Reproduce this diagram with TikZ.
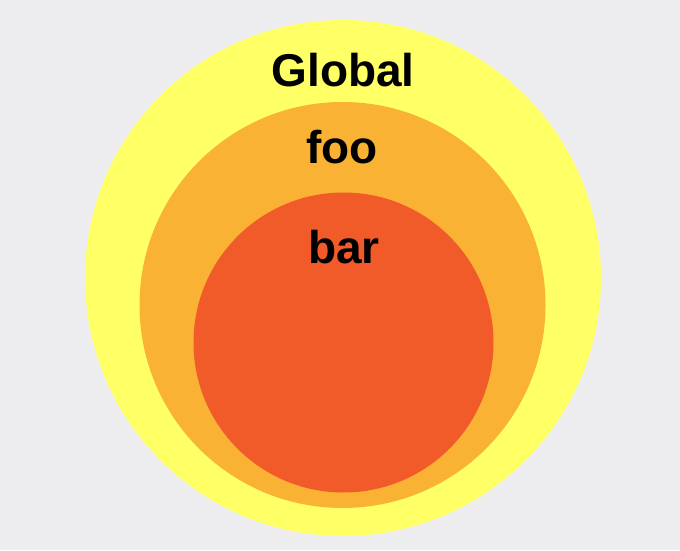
\documentclass[tikz,border=0pt]{standalone}
\usepackage{fontspec}
\setmainfont{Liberation Sans}
\usetikzlibrary{positioning}
\definecolor{bggray}{HTML}{EDEDF0}
\definecolor{globalyellow}{HTML}{FFFF66}
\definecolor{fooorange}{HTML}{F9B233}
\definecolor{barred}{HTML}{F15A29}
\tikzstyle{scope}=[circle,draw=none,inner sep=0pt]
\tikzstyle{label}=[font=\fontsize{46}{50}\selectfont\bfseries,anchor=base,inner sep=0pt]

\begin{document}
\begin{tikzpicture}[x=1pt,y=1pt]
    \fill[bggray] (0,0) rectangle (680,550);
    \useasboundingbox (0,0) rectangle (680,550);
    \node[scope, fill=globalyellow, minimum size=516pt] (global) at (343,272) {};
    \node[scope, fill=fooorange, minimum size=406pt] (foo) at (342.5,245) {};
    \node[scope, fill=barred, minimum size=300pt] (bar) at (343.5,207.5) {};
    \node[label] (globaltext) at (343,463) {Global};
    \node[label] (footext) at (342,386) {foo};
    \node[label] (bartext) at (344,287) {bar};
\end{tikzpicture}
\end{document}
